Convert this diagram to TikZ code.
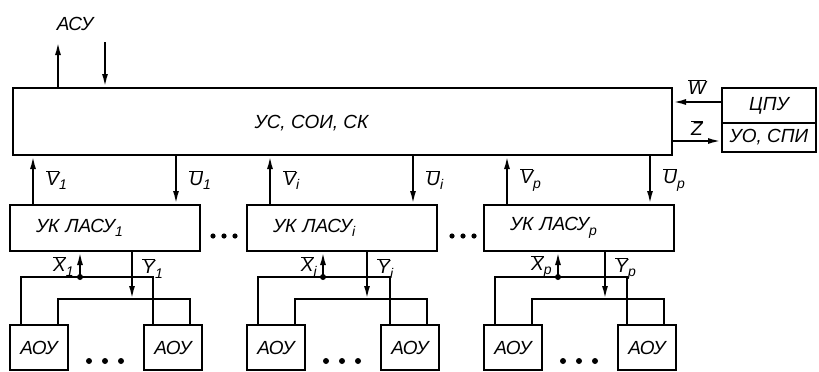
\documentclass[tikz,border=0pt]{standalone}
\usepackage{fontspec}
\setmainfont{Liberation Sans}
\usetikzlibrary{arrows.meta}

\newcommand\idx[1]{\raisebox{-0.45ex}{\fontsize{14}{14}\selectfont #1}}
\newcommand\ov[1]{$\overline{\mbox{#1}}$}
\newcommand\sig[2]{\ov{#1}\idx{#2}}

\begin{document}
\begin{tikzpicture}[
    x=1pt, y=-1pt,
    line width=2pt,
    every node/.style={font=\fontsize{19}{21}\selectfont\itshape},
    box/.style={draw, inner sep=0pt},
    ukbox/.style={draw, minimum height=46pt, text width=138pt, inner xsep=26pt, align=left},
    aoubox/.style={box, minimum width=58pt, minimum height=45pt},
    arr/.style={-{Latex[length=13pt,width=6pt]}}
  ]
  \useasboundingbox (0,0) rectangle (819,372);

  % central unit
  \node[box, minimum width=659pt, minimum height=67pt] (us) at (342.5,121.5) {};
  \node (ustxt) at ([xshift=-31pt,yshift=-1.5pt]us.center) {УС, СОИ, СК};
  \node[box, minimum width=94pt, minimum height=35pt] (cpu) at (769,105.5) {ЦПУ};
  \node[box, minimum width=94pt, minimum height=29pt] (uo) at (769,137.5) {УО, СПИ};

  \coordinate (asuout) at (58,42);
  \coordinate (asuin) at (105,42);
  \node (asu) at (75,24) {АСУ};
  \draw[arr] (asuout |- us.north) -- (asuout);
  \draw[arr] (asuin) -- (asuin |- us.north);

  \draw[arr] ([yshift=3.5pt]cpu.west) -- ([yshift=3.5pt]cpu.west -| us.east)
    node[midway, above, yshift=3pt] {\ov{W}};
  \draw[arr] ([yshift=-3.5pt]uo.west -| us.east) -- ([yshift=-3.5pt]uo.west)
    node[midway, above, yshift=1pt] {\ov{Z}};

  % local units
  \node[ukbox] (uk1) at (105,228) {УК ЛАСУ\idx{1}};
  \node[ukbox] (uki) at (342,228) {УК ЛАСУ\idx{i}};
  \node[ukbox] (ukp) at (579,228) {УК ЛАСУ\idx{p}};

  \draw[arr] ([xshift=24pt]uk1.north west) -- ([xshift=24pt]uk1.north west |- us.south)
    node[midway, right, xshift=9pt] {\sig{V}{1}};
  \draw[arr] ([xshift=167pt]uk1.north west |- us.south) -- ([xshift=167pt]uk1.north west)
    node[midway, right, xshift=9pt] {\sig{U}{1}};
  \draw[arr] ([xshift=24pt]uki.north west) -- ([xshift=24pt]uki.north west |- us.south)
    node[midway, right, xshift=9pt] {\sig{V}{i}};
  \draw[arr] ([xshift=167pt]uki.north west |- us.south) -- ([xshift=167pt]uki.north west)
    node[midway, right, xshift=9pt] {\sig{U}{i}};
  \draw[arr] ([xshift=24pt]ukp.north west) -- ([xshift=24pt]ukp.north west |- us.south)
    node[midway, right, xshift=9pt] {\sig{V}{p}};
  \draw[arr] ([xshift=167pt]ukp.north west |- us.south) -- ([xshift=167pt]ukp.north west)
    node[midway, right, xshift=9pt] {\sig{U}{p}};

  % group 1
  \node[aoubox] (a1l) at (39,347.5) {АОУ};
  \node[aoubox] (a1r) at (173,347.5) {АОУ};
  \coordinate (x1) at (80,277);
  \coordinate (y1) at (132,299);
  \draw ([xshift=12pt]a1l.north west) |- (x1) -| ([xshift=10pt]a1r.north west);
  \draw ([xshift=49pt]a1l.north west) |- (y1) -| ([xshift=47pt]a1r.north west);
  \draw[arr] (x1) -- (x1 |- uk1.south) node[midway, left, xshift=-2pt, yshift=-2pt] {\sig{X}{1}};
  \draw[arr] (y1 |- uk1.south) -- (y1) node[pos=0.35, right, xshift=6pt] {\sig{Y}{1}};
  \fill (x1) circle (3);

  % group i
  \node[aoubox] (ail) at (276,347.5) {АОУ};
  \node[aoubox] (air) at (410,347.5) {АОУ};
  \coordinate (xi) at (323,277);
  \coordinate (yi) at (367,299);
  \draw ([xshift=12pt]ail.north west) |- (xi) -| ([xshift=10pt]air.north west);
  \draw ([xshift=49pt]ail.north west) |- (yi) -| ([xshift=47pt]air.north west);
  \draw[arr] (xi) -- (xi |- uki.south) node[midway, left, xshift=-2pt, yshift=-2pt] {\sig{X}{i}};
  \draw[arr] (yi |- uki.south) -- (yi) node[pos=0.35, right, xshift=6pt] {\sig{Y}{i}};
  \fill (xi) circle (3);

  % group p
  \node[aoubox] (apl) at (513,347.5) {АОУ};
  \node[aoubox] (apr) at (647,347.5) {АОУ};
  \coordinate (xp) at (558,277);
  \coordinate (yp) at (605,299);
  \draw ([xshift=12pt]apl.north west) |- (xp) -| ([xshift=10pt]apr.north west);
  \draw ([xshift=49pt]apl.north west) |- (yp) -| ([xshift=47pt]apr.north west);
  \draw[arr] (xp) -- (xp |- ukp.south) node[midway, left, xshift=-2pt, yshift=-2pt] {\sig{X}{p}};
  \draw[arr] (yp |- ukp.south) -- (yp) node[pos=0.35, right, xshift=6pt] {\sig{Y}{p}};
  \fill (xp) circle (3);

  % ellipses
  \foreach \x in {213,224,235,452,463,474} \fill (\x,236) circle (2.6);
  \foreach \x in {89,105,121,326,342,358,563,579,595} \fill (\x,361) circle (3);
\end{tikzpicture}
\end{document}
